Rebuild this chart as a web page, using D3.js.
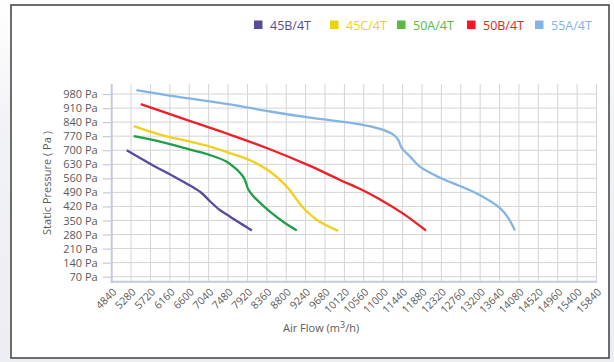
<!DOCTYPE html>
<html><head><meta charset="utf-8">
<script src="https://cdn.jsdelivr.net/npm/d3@7/dist/d3.min.js"></script>
<style>
html,body{margin:0;padding:0;background:#fff;}
svg{display:block;font-family:"Open Sans",sans-serif;}
</style></head>
<body>
<svg id="c" width="614" height="362"></svg>
<script>
// ---- data ----
const seriesNames = ["45B/4T","45C/4T","50A/4T","50B/4T","55A/4T"];
const flow45B = [5180,5720,6240,6620,6880,7070,7300,7520,7750,8020];
const pres45B = [700,632,570,524,487,446,401,370,337,300];
const flow45C = [5340,5940,6620,7070,7520,7980,8430,8810,9040,9190,9490,9980];
const pres45C = [820,778,743,718,686,650,594,520,454,412,354,298];
const flow50A = [5340,5940,6620,7070,7450,7680,7830,7890,7940,8050,8130,8430,8730,9040];
const pres50A = [770,743,703,676,643,603,566,535,504,472,454,394,344,300];
const flow50B = [5500,6620,7520,8430,9340,10020,10480,10930,11460,11970];
const pres50B = [930,845,778,705,622,552,507,455,383,300];
const flow55A = [5400,6320,7520,8430,9340,10480,10930,11230,11340,11420,11610,11840,12290,12740,13200,13650,13840,13990];
const pres55A = [1000,967,929,893,862,829,806,778,752,712,668,617,563,522,476,412,362,300];
const xTicks = [4840,5280,5720,6160,6600,7040,7480,7920,8360,8800,9240,9680,10120,10560,11000,11440,11880,12320,12760,13200,13640,14080,14520,14960,15400,15840];
const yTicks = [70,140,210,280,350,420,490,560,630,700,770,840,910,980];
const yTitle = "Static Pressure ( Pa )";

// ---- styles ----
const lineColors = ["#5a4a9e","#f2d01c","#1f9f48","#ee2027","#84b4e3"];
const legendColors = ["#584c98","#ecd117","#5ab843","#ed1c24","#84b4e3"];

const svg = d3.select("#c");
const defs = svg.append("defs");
const g1 = defs.append("linearGradient").attr("id","bg").attr("x1",0).attr("y1",0).attr("x2",0).attr("y2",1);
g1.append("stop").attr("offset","0").attr("stop-color","#ffffff");
g1.append("stop").attr("offset","0.35").attr("stop-color","#f1f2f6");
g1.append("stop").attr("offset","1").attr("stop-color","#eceef3");
svg.append("rect").attr("x",0).attr("y",0).attr("width",614).attr("height",362).attr("fill","url(#bg)");
svg.append("rect").attr("x",11).attr("y",5).attr("width",598).attr("height",353)
  .attr("fill","#fff").attr("stroke","#4a4a4a").attr("stroke-width",1.6);

const x = d3.scaleLinear().domain([4840,15840]).range([111.7,596.5]);
const y = d3.scaleLinear().domain([45,1030]).range([281.7,84]);

// gridlines
const grid = svg.append("g");
grid.selectAll("line.v").data(xTicks.slice(1)).join("line")
  .attr("x1",d=>x(d)).attr("x2",d=>x(d)).attr("y1",84).attr("y2",281.7)
  .attr("stroke","#d4d4d4").attr("stroke-width",1);
grid.selectAll("line.h").data(yTicks).join("line")
  .attr("x1",111.7).attr("x2",596.5).attr("y1",d=>y(d)).attr("y2",d=>y(d))
  .attr("stroke","#d4d4d4").attr("stroke-width",1);

// y axis
const yAxis = d3.axisLeft(y).tickValues(yTicks).tickSize(9).tickPadding(5).tickFormat(d=>d+" Pa");
const ya = svg.append("g").attr("transform","translate(111.7,0)").call(yAxis);
ya.select(".domain").remove();
ya.selectAll(".tick line").attr("stroke","#c3cbd9").attr("stroke-width",1.2);
ya.selectAll(".tick text").attr("fill","#5a5a5a").style("font-size","11px").style("font-family","Open Sans");
svg.append("line").attr("x1",111.7).attr("x2",111.7).attr("y1",84).attr("y2",282.7)
  .attr("stroke","#c3cbd9").attr("stroke-width",2);

// x axis
const xAxis = d3.axisBottom(x).tickValues(xTicks).tickSize(0).tickPadding(0).tickFormat(d3.format("d"));
const xa = svg.append("g").attr("transform","translate(0,281.7)").call(xAxis);
xa.select(".domain").remove();
xa.selectAll(".tick text").attr("fill","#5a5a5a").style("font-size","10.5px").style("font-family","Open Sans")
  .attr("text-anchor","end").attr("dy",0).attr("y",0)
  .attr("transform","translate(5,11) rotate(-45)");
svg.append("line").attr("x1",110.7).attr("x2",597).attr("y1",281.7).attr("y2",281.7)
  .attr("stroke","#c3cbd9").attr("stroke-width",2);

// titles
svg.append("text").attr("transform","translate(51,183) rotate(-90)").attr("text-anchor","middle")
  .attr("fill","#5a5a5a").style("font-size","11px").text(yTitle);
const xt = svg.append("text").attr("x",283).attr("y",332).attr("fill","#5a5a5a").style("font-size","11px");
xt.append("tspan").text("Air Flow (m");
xt.append("tspan").attr("dy",-4).style("font-size","9px").text("3");
xt.append("tspan").attr("dy",4).text("/h)");

// lines
const flows = [flow45B,flow45C,flow50A,flow50B,flow55A];
const press = [pres45B,pres45C,pres50A,pres50B,pres55A];
const line = d3.line().x(d=>x(d[0])).y(d=>y(d[1])).curve(d3.curveCatmullRom.alpha(0.5));
seriesNames.forEach((n,i)=>{
  const pts = flows[i].map((f,j)=>[f,press[i][j]]);
  svg.append("path").attr("d",line(pts)).attr("fill","none")
    .attr("stroke",lineColors[i]).attr("stroke-width",2.3).attr("stroke-linejoin","round");
});

// legend
const legX = [254,330,397,467,535];
seriesNames.forEach((n,i)=>{
  svg.append("rect").attr("x",legX[i]).attr("y",20.5).attr("width",8.5).attr("height",8.5).attr("fill",legendColors[i]);
  svg.append("text").attr("x",legX[i]+16).attr("y",29.5).attr("fill",legendColors[i])
    .style("font-size","12.5px").text(n);
});
</script>
</body></html>
